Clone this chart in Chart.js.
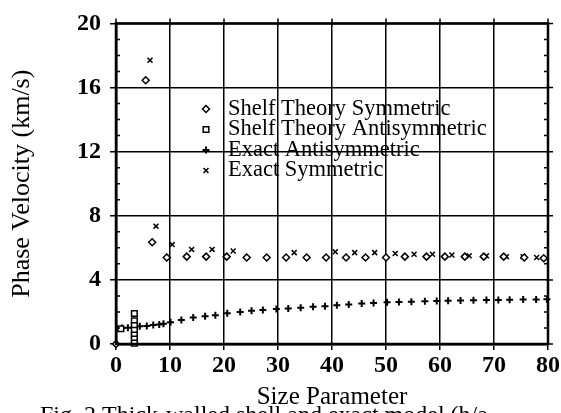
<!DOCTYPE html>
<html>
<head>
<meta charset="utf-8">
<script src="https://cdn.jsdelivr.net/npm/chart.js@4"></script>
<style>
  html, body { margin: 0; padding: 0; background: #fff; }
</style>
</head>
<body>
<canvas id="myChart" width="561" height="413"></canvas>
<script>
/* globals Chart:false */
(() => {
  "use strict";

  // data
  const shelfSymX = [0, 5.5, 6.7, 9.4, 13.1, 16.7, 20.5, 24.2, 27.9, 31.5, 35.3, 38.9, 42.6, 46.2, 50.0, 53.5, 57.5, 60.9, 64.6, 68.1, 71.8, 75.6, 79.2];
  const shelfSymY = [0, 16.45, 6.35, 5.4, 5.45, 5.45, 5.45, 5.4, 5.4, 5.4, 5.4, 5.4, 5.4, 5.4, 5.4, 5.45, 5.45, 5.45, 5.45, 5.45, 5.45, 5.4, 5.35];

  const shelfAntiX = [0.9, 3.4, 3.4, 3.4, 3.4, 3.4, 3.4, 3.4];
  const shelfAntiY = [0.95, 1.9, 1.45, 1.15, 0.85, 0.55, 0.3, 0.05];

  const exactAntiX = [0, 1.1, 2.2, 3.3, 4.4, 5.7, 6.9, 8.0, 8.8, 10.1, 12.1, 14.3, 16.5, 18.4, 20.6, 23.0, 25.1, 27.2, 29.7, 31.9, 34.2, 36.5, 38.7, 40.9, 43.1, 45.5, 47.7, 50.2, 52.4, 54.7, 57.2, 59.4, 61.5, 63.8, 66.2, 68.6, 70.8, 72.9, 75.4, 77.8, 79.8];
  const exactAntiY = [0, 1.0, 1.02, 1.05, 1.1, 1.13, 1.18, 1.22, 1.26, 1.35, 1.5, 1.65, 1.73, 1.8, 1.92, 2.0, 2.07, 2.12, 2.18, 2.22, 2.26, 2.32, 2.36, 2.42, 2.47, 2.52, 2.56, 2.6, 2.62, 2.64, 2.67, 2.69, 2.7, 2.72, 2.73, 2.74, 2.75, 2.76, 2.77, 2.78, 2.79];

  const exactSymX = [6.3, 7.4, 10.4, 14.0, 17.8, 21.7, 33.0, 40.6, 44.2, 47.9, 51.7, 55.2, 58.6, 62.2, 65.4, 68.6, 72.3, 75.4, 77.9];
  const exactSymY = [17.7, 7.35, 6.2, 5.9, 5.9, 5.8, 5.7, 5.75, 5.7, 5.7, 5.65, 5.6, 5.6, 5.55, 5.5, 5.5, 5.45, 5.45, 5.4];

  const xTicks = [0, 10, 20, 30, 40, 50, 60, 70, 80];
  const yTicks = [0, 4, 8, 12, 16, 20];

  const caption = "Fig. 2 Thick-walled shell and exact model (h/a";
  const serif = "'Liberation Serif', 'Times New Roman', serif";

  const pts = (xs, ys) => xs.map((x, i) => ({ x, y: ys[i] }));

  // border on all four sides, outer ticks on top/right, minor y ticks
  const frame = {
    id: "frame",
    afterDraw(chart) {
      const { ctx, chartArea: a, scales: { x, y } } = chart;
      ctx.save();
      ctx.strokeStyle = "#000";
      ctx.lineWidth = 2.5;
      ctx.strokeRect(a.left, a.top, a.right - a.left, a.bottom - a.top);
      ctx.lineWidth = 1.5;
      ctx.beginPath();
      xTicks.forEach((v) => {
        const px = x.getPixelForValue(v);
        ctx.moveTo(px, a.top - 5);
        ctx.lineTo(px, a.top + 2);
      });
      yTicks.forEach((v) => {
        const py = y.getPixelForValue(v);
        ctx.moveTo(a.right - 2, py);
        ctx.lineTo(a.right + 5, py);
      });
      for (let v = 1; v < 20; v++) {
        if (v % 4 === 0) continue;
        const py = y.getPixelForValue(v);
        ctx.moveTo(a.left, py);
        ctx.lineTo(a.left + 4, py);
        ctx.moveTo(a.right - 4, py);
        ctx.lineTo(a.right, py);
      }
      ctx.stroke();

      // figure caption, cut off by the bottom edge as in the scan
      ctx.fillStyle = "#000";
      ctx.font = "24px " + serif;
      ctx.textBaseline = "alphabetic";
      ctx.fillText(caption, 40, 422);
      ctx.restore();
    },
  };

  // legend sits inside the plot, no box
  const insideLegend = {
    id: "insideLegend",
    afterDatasetsDraw(chart) {
      const { ctx } = chart;
      ctx.save();
      ctx.font = "22.5px " + serif;
      ctx.textBaseline = "middle";
      chart.data.datasets.forEach((ds, i) => {
        const yy = 109 + i * 20.5;
        ctx.strokeStyle = "#000";
        ctx.fillStyle = ds.backgroundColor;
        ctx.lineWidth = ds.borderWidth;
        Chart.helpers.drawPoint(ctx, {
          pointStyle: ds.pointStyle,
          radius: ds.pointRadius,
          rotation: 0,
          borderWidth: ds.borderWidth,
        }, 206, yy);
        ctx.fillStyle = "#000";
        ctx.fillText(ds.label, 228, yy);
      });
      ctx.restore();
    },
  };

  const ctx = document.getElementById("myChart");
  // eslint-disable-next-line no-unused-vars
  const myChart = new Chart(ctx, {
    type: "scatter",
    data: {
      datasets: [
        {
          label: "Shelf Theory Symmetric",
          data: pts(shelfSymX, shelfSymY),
          pointStyle: "rectRot",
          pointRadius: 3.5,
          borderWidth: 1.5,
          borderColor: "#000",
          backgroundColor: "#fff",
        },
        {
          label: "Shelf Theory Antisymmetric",
          data: pts(shelfAntiX, shelfAntiY),
          pointStyle: "rect",
          pointRadius: 4,
          borderWidth: 1.5,
          borderColor: "#000",
          backgroundColor: "#fff",
        },
        {
          label: "Exact Antisymmetric",
          data: pts(exactAntiX, exactAntiY),
          pointStyle: "cross",
          pointRadius: 3.5,
          borderWidth: 2,
          borderColor: "#000",
          backgroundColor: "#000",
        },
        {
          label: "Exact Symmetric",
          data: pts(exactSymX, exactSymY),
          pointStyle: "crossRot",
          pointRadius: 3.5,
          borderWidth: 1.5,
          borderColor: "#000",
          backgroundColor: "#000",
        },
      ],
    },
    options: {
      responsive: false,
      animation: false,
      devicePixelRatio: 1,
      clip: false,
      layout: { padding: { left: 0, right: 13, top: 18, bottom: 0 } },
      plugins: {
        legend: { display: false },
        tooltip: { enabled: false },
      },
      scales: {
        x: {
          type: "linear",
          min: 0,
          max: 80,
          afterFit: (s) => { s.height = 69; },
          afterBuildTicks: (s) => { s.ticks = xTicks.map((v) => ({ value: v })); },
          ticks: {
            color: "#000",
            padding: 1,
            font: { family: serif, size: 24, weight: "bold" },
          },
          grid: { color: "#000", lineWidth: 1.5, tickLength: 6 },
          border: { color: "#000", width: 2.5 },
          title: {
            display: true,
            text: "Size Parameter",
            color: "#000",
            font: { family: serif, size: 25 },
            padding: { top: 0, bottom: 1 },
          },
        },
        y: {
          type: "linear",
          min: 0,
          max: 20,
          afterFit: (s) => { s.width = 116; },
          afterBuildTicks: (s) => { s.ticks = yTicks.map((v) => ({ value: v })); },
          ticks: {
            color: "#000",
            padding: 9,
            font: { family: serif, size: 24, weight: "bold" },
          },
          grid: { color: "#000", lineWidth: 1.5, tickLength: 6 },
          border: { color: "#000", width: 2.5 },
          title: {
            display: true,
            text: "Phase Velocity (km/s)",
            color: "#000",
            font: { family: serif, size: 26 },
            padding: { top: 7, bottom: 0 },
          },
        },
      },
    },
    plugins: [frame, insideLegend],
  });
})();
</script>
</body>
</html>
